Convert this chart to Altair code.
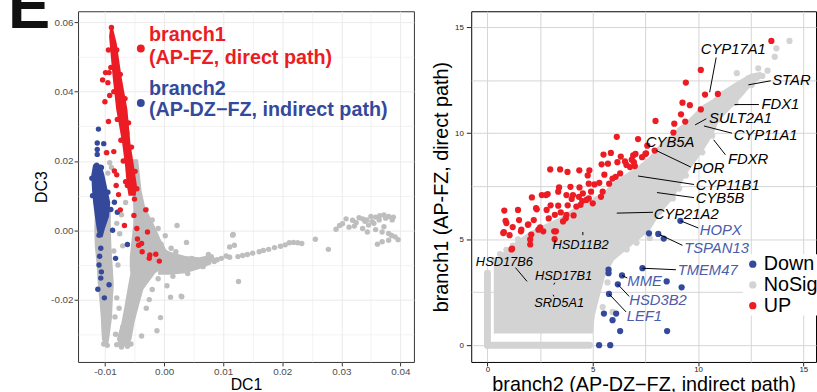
import altair as alt
import pandas as pd

FONT = "Liberation Sans"

# ---------------- LEFT PANEL DATA (DC1 vs DC3) ----------------
# dense cores (read as band edges)
L_RED_BAND_Y = [0.0587, 0.0560, 0.0539, 0.0444, 0.0349, 0.0253, 0.0187, 0.0130, 0.0100]
L_RED_BAND_X1 = [-0.0091, -0.0093, -0.0092, -0.0087, -0.0081, -0.0071, -0.0066, -0.0063, -0.0060]
L_RED_BAND_X2 = [-0.0087, -0.0083, -0.0080, -0.0072, -0.0062, -0.0057, -0.0051, -0.0046, -0.0048]

L_BLUE_BAND_Y = [0.0190, 0.0160, 0.0120, 0.0080, 0.0040, 0.0005, -0.0020]
L_BLUE_BAND_X1 = [-0.0120, -0.0123, -0.0122, -0.0120, -0.0117, -0.0114, -0.0111]
L_BLUE_BAND_X2 = [-0.0106, -0.0101, -0.0096, -0.0091, -0.0093, -0.0100, -0.0104]

L_GRAY_ARM1_Y = [0.0060, 0.0000, -0.0050, -0.0100, -0.0157, -0.0210, -0.0252, -0.0290, -0.0315, -0.0330]
L_GRAY_ARM1_X1 = [-0.0117, -0.0118, -0.0117, -0.0114, -0.0112, -0.0109, -0.0107, -0.0106, -0.0105, -0.0101]
L_GRAY_ARM1_X2 = [-0.0090, -0.0090, -0.0089, -0.0087, -0.0085, -0.0087, -0.0088, -0.0091, -0.0093, -0.0095]

L_GRAY_ARM2_Y = [0.0205, 0.0160, 0.0114, 0.0067, 0.0020, -0.0029, -0.0076, -0.0105, -0.0124, -0.0171, -0.0220, -0.0266, -0.0314, -0.0335]
L_GRAY_ARM2_X1 = [-0.0053, -0.0055, -0.0054, -0.0052, -0.0052, -0.0055, -0.0058, -0.0058, -0.0057, -0.0062, -0.0067, -0.0072, -0.0080, -0.0075]
L_GRAY_ARM2_X2 = [-0.0044, -0.0041, -0.0038, -0.0032, -0.0018, -0.0005, 0.0010, 0.0000, -0.0015, -0.0035, -0.0043, -0.0050, -0.0055, -0.0061]

L_GRAY_SPREAD_X = [-0.0010, 0.0010, 0.0036, 0.0060, 0.0080]
L_GRAY_SPREAD_Y1 = [-0.0128, -0.0128, -0.0124, -0.0112, -0.0098]
L_GRAY_SPREAD_Y2 = [-0.0045, -0.0062, -0.0074, -0.0078, -0.0070]

# scattered cells
L_RED_X = [-0.0104, -0.0099, -0.0093, -0.0095, -0.0100, -0.0092, -0.0094, -0.0097, -0.0085, -0.0084,
           -0.0081, -0.0080, -0.0062, -0.0077, -0.0074, -0.0067, -0.0051, -0.0031, -0.0028, -0.0038,
           -0.0046, -0.0043, -0.0037, -0.0024, -0.0014, -0.0008, -0.0025, -0.0050, -0.0045,
           -0.0094, -0.0090, -0.0085, -0.0079, -0.0073, -0.0069, -0.0065,
           -0.0080, -0.0074, -0.0066, -0.0060, -0.0055, -0.0049, -0.0046, -0.0089]
L_RED_Y = [0.0434, 0.0455, 0.0455, 0.0426, 0.0371, 0.0389, 0.0314, 0.0224, 0.0227, 0.0171,
           0.0129, 0.0160, 0.0129, 0.0103, 0.0059, 0.0014, 0.0043, 0.0059, -0.0005, -0.0038,
           0.0005, -0.0043, -0.0062, -0.0071, -0.0069, -0.0089, -0.0081, 0.0090, -0.0025,
           0.0520, 0.0470, 0.0400, 0.0320, 0.0260, 0.0200, 0.0140,
           0.0520, 0.0450, 0.0380, 0.0310, 0.0240, 0.0170, 0.0120, 0.0585]

L_BLUE_X = [-0.0111, -0.0113, -0.0102, -0.0113, -0.0113, -0.0114, -0.0106, -0.0062, -0.0082, -0.0101,
            -0.0107, -0.0110, -0.0093, -0.0087, -0.0110, -0.0107, -0.0079, -0.0084, -0.0112, -0.0109,
            -0.0106, -0.0122, -0.0121, -0.0095, -0.0090]
L_BLUE_Y = [0.0292, 0.0252, 0.0250, 0.0233, 0.0219, 0.0188, 0.0181, -0.0041, -0.0081, -0.0195,
            -0.0138, -0.0100, -0.0157, 0.0000, -0.0014, -0.0052, 0.0052, 0.0081, -0.0170, -0.0075,
            -0.0120, 0.0150, 0.0100, 0.0110, 0.0060]

L_GRAY_X = [-0.0098, -0.0089, -0.0062, -0.0095, -0.0092,
            -0.0080, -0.0075, -0.0070, -0.0078, -0.0085, -0.0072, -0.0065,
            -0.0080, -0.0076, -0.0083, -0.0070, -0.0082,
            -0.0006, -0.0012, -0.0038, -0.0020, 0.0011, 0.0029, 0.0022, 0.0038, 0.0117,
            0.0119, 0.0126, 0.0256, 0.0278, 0.0030, -0.0030, -0.0025, 0.0005,
            0.0047, 0.0066, 0.0080, 0.0090, 0.0097, 0.0105, 0.0111, 0.0125, 0.0133, 0.0141,
            0.0150, 0.0161, 0.0168, 0.0177, 0.0187, 0.0197, 0.0205, 0.0212, 0.0219, 0.0226,
            0.0233, 0.0111, 0.0116, 0.0085, 0.0072, 0.0060, 0.0052,
            -0.0080, -0.0072, -0.0062, -0.0056, -0.0102, -0.0096, -0.0099,
            0.0068, 0.0075, 0.0083, 0.0040, 0.0015, -0.0010, 0.0020, -0.0005, 0.0012,
            0.0002, -0.0010, -0.0020, -0.0030,
            0.0291, 0.0297, 0.0302, 0.0308, 0.0313, 0.0319, 0.0325, 0.0330, 0.0336, 0.0343,
            0.0350, 0.0358, 0.0365, 0.0372, 0.0380, 0.0388, 0.0336, 0.0346, 0.0358, 0.0344,
            0.0369, 0.0380, 0.0391, 0.0396, 0.0380, 0.0369, 0.0361, 0.0352, 0.0364, 0.0375,
            0.0386, 0.0322, 0.0340, 0.0355, 0.0372, 0.0385]
L_GRAY_Y = [0.0224, 0.0181, 0.0281, 0.0165, 0.0195,
            0.0020, -0.0010, -0.0045, -0.0100, -0.0060, 0.0045, 0.0080,
            -0.0195, -0.0225, -0.0250, -0.0280, -0.0300,
            -0.0252, -0.0290, -0.0305, -0.0171, -0.0193, -0.0190, 0.0014, -0.0035, -0.0012,
            -0.0043, -0.0148, -0.0026, -0.0055, -0.0192, -0.0225, -0.0200, -0.0160,
            -0.0081, -0.0105, -0.0076, -0.0085, -0.0081, -0.0074, -0.0078, -0.0076, -0.0073, -0.0070,
            -0.0066, -0.0062, -0.0058, -0.0055, -0.0050, -0.0046, -0.0042, -0.0036, -0.0035, -0.0036,
            -0.0038, -0.0048, -0.0014, -0.0090, -0.0092, -0.0095, -0.0100,
            -0.0330, -0.0337, -0.0335, -0.0328, -0.0328, -0.0332, -0.0320,
            -0.0098, -0.0070, -0.0085, -0.0125, -0.0133, -0.0140, -0.0062, -0.0040, -0.0052,
            -0.0016, 0.0005, 0.0030, 0.0060,
            0.0003, 0.0014, 0.0019, 0.0033, 0.0009, 0.0029, 0.0022, 0.0036, 0.0033, 0.0030,
            0.0040, 0.0038, 0.0042, 0.0044, 0.0040, 0.0038, 0.0005, 0.0015, 0.0002, -0.0005,
            -0.0005, -0.0009, -0.0019, -0.0027, -0.0029, -0.0033, -0.0040, 0.0025, 0.0030, 0.0035,
            0.0030, 0.0012, 0.0026, 0.0020, 0.0010, -0.0015]

L_LEG_X = [-0.00393, -0.00393]
L_LEG_Y = [0.05246, 0.03674]
L_LEG_TEXT = ["branch1", "(AP-FZ, direct path)", "branch2", "(AP-DZ\u2212FZ, indirect path)"]
L_LEG_TX = [-0.00255, -0.00255, -0.00255, -0.00255]
L_LEG_TY = [0.05457, 0.04800, 0.03914, 0.03286]
PANEL_LABEL = ["E"]

# ---------------- RIGHT PANEL DATA (branch2 vs branch1) ----------------
R_CLOUD_X = [0.30, 1.0, 1.5, 2.0, 2.5, 3.4, 4.0, 4.8, 5.0, 5.1, 5.3, 5.6, 6.0, 6.6, 7.1, 7.7, 8.2, 8.8,
             9.1, 9.4, 10.2, 10.7, 11.0, 11.8, 12.5, 13.0]
R_CLOUD_LO = [0.55, 0.55, 0.55, 0.55, 0.55, 0.55, 0.55, 0.55, 0.55, 1.4, 2.2, 3.3, 4.0, 4.5, 4.9, 5.4, 6.2, 6.9,
              7.4, 8.0, 9.1, 9.9, 10.6, 11.4, 12.2, 12.6]
R_CLOUD_HI = [4.0, 4.6, 5.0, 5.35, 5.6, 6.0, 6.4, 6.8, 6.9, 7.0, 7.1, 7.3, 7.7, 8.1, 8.4, 8.9, 9.5, 10.0,
              10.3, 10.5, 11.3, 11.6, 11.9, 12.4, 12.8, 12.9]
R_ROW_X = [0.0, 4.85]
R_ROW_Y = [0.0, 0.0]
R_COL_X = [0.0, 0.0]
R_COL_Y = [0.0, 3.4]

R_NS_X = [14.34, 13.72, 13.64, 12.86, 13.05, 11.84, 11.61, 12.4, 13.3, 12.0,
          7.08, 7.7, 6.61, 5.7, 5.47, 5.94, 5.16, 5.47, 8.49, 9.1, 9.42, 10.2, 10.67, 10.98,
          11.77, 12.55, 8.8, 8.17, 1.45, 0.9, 0.3, 0.6, 1.2, 6.61]
R_NS_Y = [14.35, 14.0, 13.6, 13.06, 12.7, 12.83, 12.05, 12.6, 12.95, 12.3,
          4.83, 5.06, 4.52, 2.96, 1.8, 1.57, 2.58, 3.35, 7.05, 7.39, 8.01, 9.1, 9.88, 10.65,
          11.43, 12.28, 6.92, 6.3, 4.99, 4.5, 4.0, 4.3, 4.7, 4.99]

R_DOWN_X = [9.16, 7.67, 8.11, 8.37, 7.36, 8.51, 9.22, 6.39, 5.75, 5.75, 6.19, 5.77, 5.53, 6.11, 5.94,
            6.3, 8.53, 5.3, 5.83]
R_DOWN_Y = [5.87, 5.28, 5.25, 5.03, 3.63, 3.01, 2.73, 3.29, 3.56, 3.40, 2.87, 2.42, 1.49, 1.49, 1.18,
            0.67, 0.67, 0.0, 0.0]

R_UP_X = [13.48, 10.13, 9.42, 10.33, 10.94, 9.26, 9.61, 10.13, 9.19, 7.98, 8.87, 9.39, 8.83, 6.14, 7.15,
          7.59, 7.94, 7.53, 5.51, 5.86, 6.33, 6.92, 7.03, 7.5, 5.42, 5.72, 6.17, 6.53, 6.95, 6.77,
          6.6, 6.85, 7.0, 2.98, 3.45, 3.8, 4.36, 4.84, 4.76, 5.55, 6.09, 6.3, 5.94, 5.78,
          3.4, 3.94, 4.37, 4.81, 5.08, 5.31, 3.36, 2.11, 2.58, 2.86, 3.75, 4.06, 4.34, 4.7,
          4.53, 4.92, 5.39, 5.47, 5.0, 2.34, 2.81, 3.36, 3.81, 4.22, 0.8, 0.86, 1.2, 0.78,
          1.05, 1.59, 1.94, 2.5, 2.91, 3.2, 3.48, 3.75, 4.09, 2.42, 2.65, 3.59, 3.19, 3.25,
          2.03, 2.03, 1.17, 7.34, 4.5, 4.0, 2.2, 1.5, 3.0,
          0.75, 1.14, 0.9, 1.92, 2.31, 2.78, 1.45, 1.61, 2.08, 3.72, 4.42, 4.81, 3.17]
R_UP_Y = [14.35, 12.98, 12.39, 11.82, 11.85, 11.44, 11.32, 11.12, 10.89, 10.58, 10.45, 10.55, 10.03, 9.83, 9.72,
          9.41, 9.18, 9.05, 8.99, 9.07, 8.9, 8.95, 9.02, 9.02, 8.53, 8.56, 8.63, 8.67, 8.63, 8.4,
          8.5, 8.75, 8.45, 8.29, 8.29, 8.17, 8.25, 8.25, 8.01, 8.04, 7.94, 8.1, 7.86, 7.62,
          7.44, 7.47, 7.44, 7.62, 7.58, 7.66, 7.24, 6.97, 7.08, 7.13, 7.08, 7.08, 7.0, 6.85,
          7.16, 7.24, 7.0, 7.24, 6.69, 6.41, 6.38, 6.58, 6.6, 6.54, 6.35, 5.87, 5.57, 5.33,
          5.19, 5.37, 5.7, 5.56, 5.98, 6.15, 6.26, 6.15, 6.12, 5.45, 5.37, 5.84, 5.0, 5.37,
          4.99, 4.75, 4.55, 8.87, 6.8, 6.9, 5.9, 5.9, 6.6,
          5.29, 4.52, 5.76, 5.68, 6.46, 7.08, 6.38, 5.45, 5.22, 5.99, 6.62, 6.92, 5.37]

STATUS_LEVELS = ["Down", "NoSig", "UP"]

GENE_BIG = ["CYP17A1", "STAR", "FDX1", "SULT2A1", "CYP11A1", "FDXR", "CYB5A", "POR", "CYP11B1", "CYB5B", "CYP21A2"]
GENE_BIG_X = [10.13, 13.52, 13.01, 10.52, 11.69, 11.42, 7.52, 9.73, 9.89, 9.89, 7.89]
GENE_BIG_Y = [13.96, 12.49, 11.38, 10.73, 9.91, 8.76, 9.60, 8.37, 7.55, 6.92, 6.18]
GENE_SMALL = ["HSD11B2", "HSD17B6", "HSD17B1", "SRD5A1"]
GENE_SMALL_X = [3.09, -0.55, 2.26, 2.22]
GENE_SMALL_Y = [4.71, 3.94, 3.28, 1.99]
GENE_DOWN = ["HOPX", "TSPAN13", "TMEM47", "MME", "HSD3B2", "LEF1"]
GENE_DOWN_X = [10.08, 9.34, 9.03, 6.64, 6.73, 6.61]
GENE_DOWN_Y = [5.42, 4.60, 3.54, 3.04, 2.11, 1.37]

SEG_X1 = [10.86, 12.39, 11.73, 9.86, 10.28, 10.74, 8.02, 7.15, 8.05, 6.14, 9.16, 8.17, 7.36, 6.39, 6.19, 5.77, 4.53, 1.33, 3.20, 3.12]
SEG_Y1 = [13.57, 12.28, 11.35, 10.39, 10.34, 9.69, 9.18, 7.98, 7.20, 6.23, 5.87, 5.22, 3.63, 3.29, 2.87, 2.42, 5.34, 3.66, 2.95, 2.38]
SEG_X2 = [10.55, 13.45, 12.89, 10.39, 11.61, 11.30, 9.66, 9.81, 9.81, 7.86, 10.01, 9.26, 8.95, 6.64, 6.73, 6.58, 4.53, 1.88, 3.15, 3.15]
SEG_Y2 = [11.93, 12.47, 11.35, 10.68, 10.00, 8.98, 8.40, 7.58, 6.96, 6.27, 5.53, 4.71, 3.56, 3.17, 2.30, 1.57, 5.19, 3.01, 2.86, 2.30]

# ---------------- styles ----------------
RED = "#ec1c24"
BLUE = "#34499c"
BLUE_TXT = "#4a5caa"
GRAY_L = "#bebebe"
GRAY_R = "#d3d3d3"

LX = alt.Scale(domain=[-0.01455, 0.04228], nice=False, zero=False)
LY = alt.Scale(domain=[-0.0380, 0.0632], nice=False, zero=False)
RXS = alt.Scale(domain=[-0.77, 15.6], nice=False, zero=False)
RYS = alt.Scale(domain=[-0.79, 15.75], nice=False, zero=False)

lx_major = "abs(round(datum.value*1000)) % 10 == 0"
ly_major = "abs(round(datum.value*1000)) % 20 == 0"
r_major = "datum.value % 5 == 0"


def left_axis(values, major, title, title_pad):
    return alt.Axis(
        values=values, title=title, titleFont=FONT, titleFontSize=16, titleFontWeight="normal",
        titleColor="black", titlePadding=title_pad,
        labelExpr=f"{major} ? replace(format(datum.value, '.2f'), '\u2212', '-') : ''",
        labelFont=FONT, labelFontSize=10, labelColor="#4d4d4d", labelPadding=1,
        tickSize=4, tickColor={"condition": {"test": major, "value": "#333333"}, "value": "transparent"},
        grid=True, gridColor="#ebebeb",
        gridWidth={"condition": {"test": major, "value": 1.0}, "value": 0.6},
        domain=False,
    )


LX_AXIS = left_axis([-0.01, -0.005, 0, 0.005, 0.01, 0.015, 0.02, 0.025, 0.03, 0.035, 0.04], lx_major, "DC1", 0)
LY_AXIS = left_axis([-0.03, -0.02, -0.01, 0, 0.01, 0.02, 0.03, 0.04, 0.05, 0.06], ly_major, "DC3", 1)


def right_axis(title, tick, label_pad, title_pad):
    return alt.Axis(
        values=[0, 2.5, 5, 7.5, 10, 12.5, 15], title=title, titleFont=FONT, titleFontSize=20,
        titleFontWeight="normal", titleColor="black", titlePadding=title_pad,
        labelExpr=f"{r_major} ? format(datum.value, 'd') : ''",
        labelFont=FONT, labelFontSize=8, labelColor="#222222", labelPadding=label_pad,
        tickSize=tick, tickColor={"condition": {"test": r_major, "value": "#222222"}, "value": "transparent"},
        grid=True, gridColor="#d4d4d4", gridWidth=1, domain=False,
    )


RX_AXIS = right_axis("branch2 (AP-DZ\u2212FZ, indirect path)", 4, 0, 1)
RY_AXIS = right_axis("branch1 (AP-FZ, direct path)", 5, 3, 3)


def lx(f):
    return alt.X(f, type="quantitative", scale=LX, axis=LX_AXIS)


def ly(f):
    return alt.Y(f, type="quantitative", scale=LY, axis=LY_AXIS)


def rx(f):
    return alt.X(f, type="quantitative", scale=RXS, axis=RX_AXIS)


def ry(f):
    return alt.Y(f, type="quantitative", scale=RYS, axis=RY_AXIS)


def hband(ys, x1s, x2s, color, scale_fn_x, scale_fn_y):
    df = pd.DataFrame({"y": ys, "x1": x1s, "x2": x2s})
    return alt.Chart(df).mark_area(orient="horizontal", color=color, opacity=1).encode(
        y=scale_fn_y("y"), x=scale_fn_x("x1"), x2=alt.X2("x2"))


def vband(xs, y1s, y2s, color, scale_fn_x, scale_fn_y):
    df = pd.DataFrame({"x": xs, "y1": y1s, "y2": y2s})
    return alt.Chart(df).mark_area(orient="vertical", color=color, opacity=1).encode(
        x=scale_fn_x("x"), y=scale_fn_y("y1"), y2=alt.Y2("y2"))


def pts(xs, ys, color, size, scale_fn_x, scale_fn_y):
    df = pd.DataFrame({"x": xs, "y": ys})
    return alt.Chart(df).mark_circle(color=color, size=size, opacity=1).encode(
        x=scale_fn_x("x"), y=scale_fn_y("y"))


# ---------------- LEFT CHART ----------------
left_layers = [
    hband(L_GRAY_ARM1_Y, L_GRAY_ARM1_X1, L_GRAY_ARM1_X2, GRAY_L, lx, ly),
    hband(L_GRAY_ARM2_Y, L_GRAY_ARM2_X1, L_GRAY_ARM2_X2, GRAY_L, lx, ly),
    vband(L_GRAY_SPREAD_X, L_GRAY_SPREAD_Y1, L_GRAY_SPREAD_Y2, GRAY_L, lx, ly),
    pts(L_GRAY_X, L_GRAY_Y, GRAY_L, 30, lx, ly),
    hband(L_BLUE_BAND_Y, L_BLUE_BAND_X1, L_BLUE_BAND_X2, BLUE, lx, ly),
    pts(L_BLUE_X, L_BLUE_Y, BLUE, 30, lx, ly),
    hband(L_RED_BAND_Y, L_RED_BAND_X1, L_RED_BAND_X2, RED, lx, ly),
    pts(L_RED_X, L_RED_Y, RED, 30, lx, ly),
]
leg_dots = alt.Chart(pd.DataFrame({"x": L_LEG_X, "y": L_LEG_Y, "c": [RED, BLUE]})).mark_circle(
    size=64, opacity=1).encode(x=lx("x"), y=ly("y"), color=alt.Color("c:N", scale=None))
leg_text = alt.Chart(pd.DataFrame({"x": L_LEG_TX, "y": L_LEG_TY, "t": L_LEG_TEXT,
                                   "c": [RED, RED, BLUE, BLUE]})).mark_text(
    align="left", baseline="alphabetic", font=FONT, fontSize=20, fontWeight="bold").encode(
    x=lx("x"), y=ly("y"), text="t:N", color=alt.Color("c:N", scale=None))
panel_e = alt.Chart(pd.DataFrame({"t": PANEL_LABEL})).mark_text(
    align="left", baseline="alphabetic", font=FONT, fontSize=64, fontWeight="bold", color="#111111").encode(
    x=alt.value(-71), y=alt.value(17), text="t:N")

left = alt.layer(*left_layers, leg_dots, leg_text, panel_e).properties(
    width=340, height=355,
    view=alt.ViewBackground(stroke="#333333", strokeWidth=1, fill="white"))

# ---------------- RIGHT CHART ----------------
status = (["NoSig"] * len(R_NS_X)) + (["Down"] * len(R_DOWN_X)) + (["UP"] * len(R_UP_X))
pts_df = pd.DataFrame({
    "x": R_NS_X + R_DOWN_X + R_UP_X,
    "y": R_NS_Y + R_DOWN_Y + R_UP_Y,
    "status": status,
})
pts_df["order"] = range(len(pts_df))

cloud = vband(R_CLOUD_X, R_CLOUD_LO, R_CLOUD_HI, GRAY_R, rx, ry)
row = alt.Chart(pd.DataFrame({"x": R_ROW_X, "y": R_ROW_Y})).mark_line(
    color=GRAY_R, strokeWidth=7, strokeCap="round").encode(x=rx("x"), y=ry("y"))
col = alt.Chart(pd.DataFrame({"x": R_COL_X, "y": R_COL_Y})).mark_line(
    color=GRAY_R, strokeWidth=7, strokeCap="round").encode(x=rx("x"), y=ry("y"), order="y:Q")
points = alt.Chart(pts_df).mark_circle(size=40, opacity=1).encode(
    x=rx("x"), y=ry("y"),
    order=alt.Order("order:Q"),
    color=alt.Color("status:N",
                    scale=alt.Scale(domain=STATUS_LEVELS, range=[BLUE, GRAY_R, RED]),
                    legend=alt.Legend(orient="none", legendX=275, legendY=246, title=None,
                                      labelFont=FONT, labelFontSize=20, labelColor="black",
                                      symbolType="circle", symbolSize=55, symbolStrokeWidth=0,
                                      fillColor="white", padding=0, rowPadding=1, labelOffset=1)))
segs = alt.Chart(pd.DataFrame({"x": SEG_X1, "y": SEG_Y1, "x2": SEG_X2, "y2": SEG_Y2})).mark_rule(
    color="black", strokeWidth=1).encode(x=rx("x"), y=ry("y"), x2="x2:Q", y2="y2:Q")
txt_big = alt.Chart(pd.DataFrame({"x": GENE_BIG_X, "y": GENE_BIG_Y, "t": GENE_BIG})).mark_text(
    align="left", baseline="middle", font=FONT, fontSize=15, fontStyle="italic", color="black").encode(
    x=rx("x"), y=ry("y"), text="t:N")
txt_small = alt.Chart(pd.DataFrame({"x": GENE_SMALL_X, "y": GENE_SMALL_Y, "t": GENE_SMALL})).mark_text(
    align="left", baseline="middle", font=FONT, fontSize=13, fontStyle="italic", color="black").encode(
    x=rx("x"), y=ry("y"), text="t:N")
txt_down = alt.Chart(pd.DataFrame({"x": GENE_DOWN_X, "y": GENE_DOWN_Y, "t": GENE_DOWN})).mark_text(
    align="left", baseline="middle", font=FONT, fontSize=15, fontStyle="italic", color=BLUE_TXT).encode(
    x=rx("x"), y=ry("y"), text="t:N")

right = alt.layer(cloud, row, col, points, segs, txt_big, txt_small, txt_down).properties(
    width=349, height=355,
    view=alt.ViewBackground(stroke="black", strokeWidth=1, fill="white"))

chart = alt.hconcat(left, right, spacing=58, bounds="flush").resolve_scale(
    color="independent").properties(
    padding={"left": 7, "top": -26, "right": -2, "bottom": -6},
    background="white",
)

chart.save("out.html", embed_options={"renderer": "svg", "actions": False})
